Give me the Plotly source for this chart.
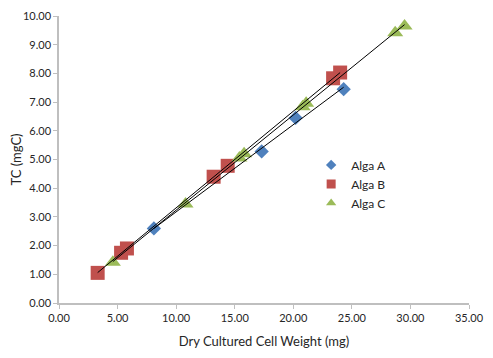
import numpy as np
import plotly.graph_objects as go

# Data
alga_a_x = [8.1, 17.3, 20.2, 24.3]
alga_a_y = [2.60, 5.28, 6.45, 7.45]
alga_b_x = [3.3, 5.3, 5.8, 13.2, 14.4, 23.4, 24.0]
alga_b_y = [1.05, 1.75, 1.90, 4.40, 4.78, 7.83, 8.03]
alga_c_x = [4.6, 10.8, 15.4, 15.8, 20.8, 21.1, 28.7, 29.5]
alga_c_y = [1.42, 3.45, 5.05, 5.20, 6.84, 6.96, 9.42, 9.65]

series_names = ["Alga A", "Alga B", "Alga C"]
colors = ["#4F81BD", "#C0504D", "#9BBB59"]
symbols = ["diamond", "square", "triangle-up"]
sizes = [11, 14, 14]
legend_sizes = [8, 9, 9]

fig = go.Figure()
data = [(alga_a_x, alga_a_y), (alga_b_x, alga_b_y), (alga_c_x, alga_c_y)]
for (xs, ys), name, col, sym, sz in zip(data, series_names, colors, symbols, sizes):
    fig.add_trace(go.Scatter(x=xs, y=ys, mode="markers", name=name, showlegend=False,
                             legendgroup=name,
                             marker=dict(color=col, symbol=sym, size=sz, line=dict(width=0))))
# linear trendlines (least-squares fit of each series)
for xs, ys in data:
    m, c = np.polyfit(xs, ys, 1)
    xr = np.array([min(xs), max(xs)])
    fig.add_trace(go.Scatter(x=xr, y=m * xr + c, mode="lines", showlegend=False,
                             line=dict(color="black", width=1), hoverinfo="skip"))
# legend entries with small symbols
for name, col, sym, sz in zip(series_names, colors, symbols, legend_sizes):
    fig.add_trace(go.Scatter(x=[None], y=[None], mode="markers", name=name, legendgroup=name,
                             marker=dict(color=col, symbol=sym, size=sz, line=dict(width=0))))

font = "Lato, Open Sans, sans-serif"
axis_common = dict(showgrid=False, zeroline=False, showline=True, linecolor="#BFBFBF",
                   linewidth=1.5, ticks="outside", tickcolor="#BFBFBF", ticklen=4,
                   automargin=False,
                   tickformat=".2f", tickfont=dict(size=11, color="#262626", family=font))
# page body has an 8px default margin, so the figure is made 8px smaller
fig.update_layout(
    width=485, height=350,
    margin=dict(l=51, r=24, t=8, b=55),
    paper_bgcolor="white", plot_bgcolor="white",
    font=dict(family=font, color="#262626"),
    xaxis=dict(range=[0, 35], dtick=5, tick0=0,
               title=dict(text="Dry Cultured Cell Weight (mg)", font=dict(size=13), standoff=14),
               **axis_common),
    yaxis=dict(range=[0, 10], dtick=1, tick0=0,
               title=dict(text="TC (mgC)", font=dict(size=13), standoff=10),
               **axis_common),
    legend=dict(x=0.615, y=0.415, xanchor="left", yanchor="middle", font=dict(size=12),
                bgcolor="rgba(0,0,0,0)", itemwidth=30, tracegroupgap=0),
    showlegend=True,
)
fig.write_html("out.html")
